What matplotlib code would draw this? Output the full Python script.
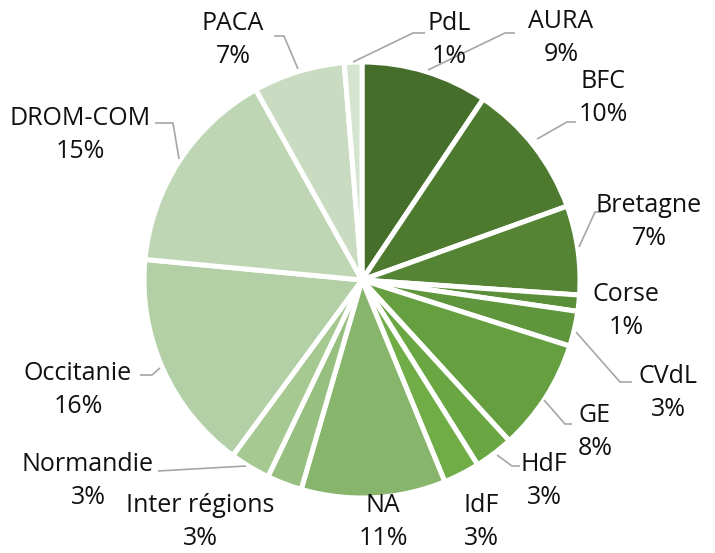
import matplotlib
matplotlib.use("Agg")
import matplotlib.pyplot as plt

categories = ["AURA", "BFC", "Bretagne", "Corse", "CVdL", "GE", "HdF", "IdF",
              "NA", "Inter régions", "Normandie", "Occitanie", "DROM-COM", "PACA", "PdL"]
values = [9.4, 10.1, 6.6, 1.2, 2.6, 8.3, 2.9, 2.7, 10.7, 2.6, 3.0, 16.4, 15.4, 6.8, 1.3]
colors = ["#466e2b", "#4d7a2f", "#548434", "#5a8e38", "#5f953c", "#659f40", "#6aa743", "#70ad47",
          "#86b56b", "#97bf80", "#a6c891", "#b2cfa5", "#bfd6b5", "#c9dcc1", "#d5e4cf"]

W, H = 715, 553
fig = plt.figure(figsize=(W / 100, H / 100), dpi=100)
ax = fig.add_axes([0, 0, 1, 1])
ax.set_xlim(0, W)
ax.set_ylim(0, H)
ax.set_aspect("equal")
ax.axis("off")

def P(x, y):
    return (x, H - y)

ax.pie(values, colors=colors, startangle=90, counterclock=False,
       center=P(362, 280), radius=218, frame=True,
       wedgeprops=dict(edgecolor="white", linewidth=3.6))
ax.set_xlim(0, W)
ax.set_ylim(0, H)
ax.axis("off")

label_pos = {
    "AURA": (561, 38), "BFC": (603, 98), "Bretagne": (649, 222), "Corse": (626, 311),
    "CVdL": (668, 393), "GE": (595, 432), "HdF": (544, 481), "IdF": (481, 522),
    "NA": (383, 522), "Inter régions": (200, 522), "Normandie": (88, 481),
    "Occitanie": (78, 390), "DROM-COM": (80, 135), "PACA": (233, 40), "PdL": (449, 40),
}
leaders = {
    "PdL": [(353, 62), (413, 33), (425, 33)],
    "AURA": [(428, 70), (505, 33), (515, 33)],
    "BFC": [(537, 139), (567, 122), (576, 122)],
    "Bretagne": [(579, 247), (595, 212), (606, 212)],
    "CVdL": [(576, 332), (620, 382), (632, 382)],
    "GE": [(544, 400), (565, 424), (572, 424)],
    "HdF": [(497, 455), (512, 466), (520, 466)],
    "Occitanie": [(160, 368), (152, 375), (140, 375)],
    "Normandie": [(246, 466), (158, 471)],
    "DROM-COM": [(179, 159), (173, 123), (155, 123)],
    "PACA": [(298, 69), (284, 36), (274, 36)],
}

for name, pts in leaders.items():
    xs = [P(*p)[0] for p in pts]
    ys = [P(*p)[1] for p in pts]
    ax.plot(xs, ys, color="#a6a6a6", lw=1.2, solid_capstyle="butt")

for name, v in zip(categories, values):
    x, y = P(*label_pos[name])
    ax.text(x, y, f"{name}\n{round(v):d}%", ha="center", va="center",
            fontsize=18, family=["Open Sans", "DejaVu Sans"], color="#111111",
            linespacing=1.45)

fig.savefig("out.png", dpi=100, facecolor="white")
